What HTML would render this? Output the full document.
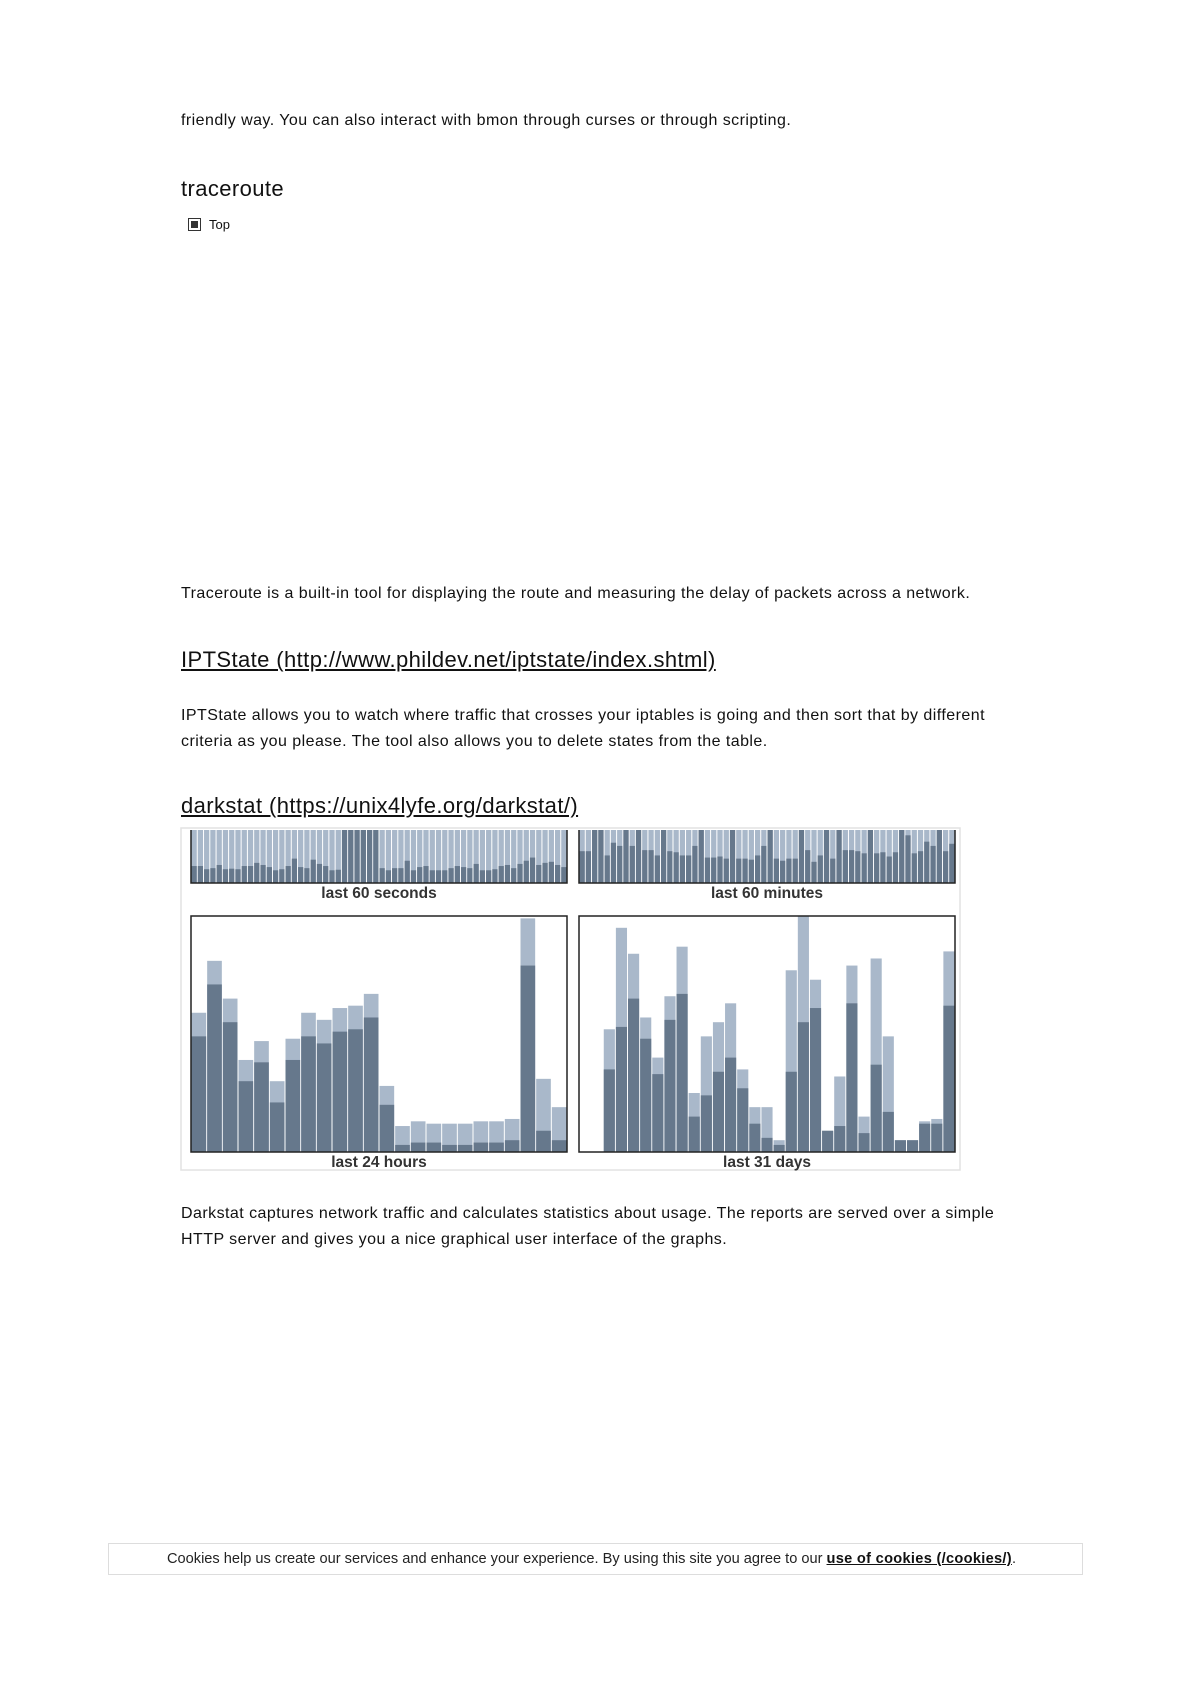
<!DOCTYPE html>
<html><head><meta charset="utf-8"><style>
body{margin:0;width:1190px;height:1683px;background:#fff;position:relative;font-family:"Liberation Sans",Arial,sans-serif;color:#111;overflow:hidden}
.t{position:absolute;left:181px;font-size:16px;letter-spacing:0.45px;white-space:nowrap}
.h{position:absolute;left:181px;font-size:22px;letter-spacing:0.4px;white-space:nowrap;font-family:"Liberation Sans",sans-serif;font-weight:normal}
.h a{color:#111;text-decoration:underline}
</style></head><body>
<div class="t" style="top:112px">friendly way. You can also interact with bmon through curses or through scripting.</div>
<div class="h" style="top:176px">traceroute</div>
<div style="position:absolute;left:188px;top:218px;width:11px;height:11px;border:1px solid #333;background:#fff"><div style="position:absolute;left:2px;top:2px;width:7px;height:7px;background:#333"></div></div>
<div style="position:absolute;left:209px;top:217px;font-size:13px">Top</div>
<div class="t" style="top:585px">Traceroute is a built-in tool for displaying the route and measuring the delay of packets across a network.</div>
<div class="h" style="top:647px"><a>IPTState (http://www.phildev.net/iptstate/index.shtml)</a></div>
<div class="t" style="top:707px">IPTState allows you to watch where traffic that crosses your iptables is going and then sort that by different</div>
<div class="t" style="top:733px">criteria as you please. The tool also allows you to delete states from the table.</div>
<div class="h" style="top:793px"><a>darkstat (https://unix4lyfe.org/darkstat/)</a></div>

<svg id="chart" style="position:absolute;left:0;top:0" width="1190" height="1200"></svg>

<div class="t" style="top:1205px">Darkstat captures network traffic and calculates statistics about usage. The reports are served over a simple</div>
<div class="t" style="top:1231px">HTTP server and gives you a nice graphical user interface of the graphs.</div>

<div style="position:absolute;left:108px;top:1543px;width:973px;height:30px;border:1px solid #ddd;background:#fff">
<div style="position:absolute;left:58px;top:7px;font-size:14.6px;white-space:nowrap;color:#222">Cookies help us create our services and enhance your experience. By using this site you agree to our <b style="text-decoration:underline;color:#111;letter-spacing:0.3px">use of cookies (/cookies/)</b>.</div>
</div>

<script>
const secTotal=Array(60).fill(100);
const secDark=[32,32,26,28,34,26,27,26,32,32,38,34,30,24,26,32,46,30,28,44,36,32,24,25,100,100,100,100,100,100,28,24,28,28,42,24,30,32,24,24,24,28,32,30,28,36,24,24,26,32,34,28,36,42,48,34,38,40,34,30];
const minTotal=Array(60).fill(100);
const minDark=[60,60,100,100,52,76,70,100,70,100,62,62,52,100,60,58,52,52,70,100,48,48,50,46,100,46,46,44,52,70,100,46,42,46,46,100,62,40,52,100,46,100,62,62,60,56,100,56,58,50,58,100,90,56,60,78,70,100,60,74];
const hourTotal=[59,81,65,39,47,30,48,59,56,61,62,67,28,11,13,12,12,12,13,13,14,99,31,19];
const hourDark=[49,71,55,30,38,21,39,49,46,51,52,57,20,3,4,4,3,3,4,4,5,79,9,5];
const dayTotal=[0,0,52,95,84,57,40,66,87,25,49,55,63,35,19,19,5,77,100,73,9,32,79,15,82,49,5,5,13,14,85];
const dayDark=[0,0,35,53,65,48,33,56,67,15,24,34,40,27,12,6,3,34,55,61,9,11,63,8,37,17,5,5,12,12,62];
const labels=["last 60 seconds","last 60 minutes","last 24 hours","last 31 days"];

const svg=document.getElementById('chart');
const NS='http://www.w3.org/2000/svg';
function mk(tag,attrs){const e=document.createElementNS(NS,tag);for(const k in attrs)e.setAttribute(k,attrs[k]);svg.appendChild(e);return e;}
const frame=mk('rect',{x:181,y:828,width:779,height:342,fill:'#fff',stroke:'#e2e2e2','stroke-width':1.5});


function panel(x0,y0,w,h,tot,dark,label,name,border){
  const n=tot.length,bw=w/n;
  const yS=v=>y0+h-v/100*h;
  for(let i=0;i<n;i++){
    if(tot[i]<=0)continue;
    const bx=x0+i*bw+0.5;
    const l=mk('rect',{x:bx,y:yS(tot[i]),width:bw-1,height:h-(yS(tot[i])-y0),fill:'#a9b8ca'});
    
    
    const d=mk('rect',{x:bx,y:yS(dark[i]),width:bw-1,height:h-(yS(dark[i])-y0),fill:'#66788c'});
    
    
  }
  if(border){
    const b=mk('rect',{x:x0,y:y0,width:w,height:h,fill:'none',stroke:'#222','stroke-width':1.5});
    
    
  }else{
    const b=mk('path',{d:`M${x0},${y0}V${y0+h}H${x0+w}V${y0}`,fill:'none',stroke:'#222','stroke-width':1.5});
    
    
  }
  const t=mk('text',{x:x0+w/2,y:y0+h+15,'text-anchor':'middle','font-size':15.5,'font-weight':'bold','font-family':'Liberation Sans, sans-serif',fill:'#333'});
  t.textContent=label;
  
  
}
panel(191,830,376,53,secTotal,secDark,labels[0],'seconds',false);
panel(579,830,376,53,minTotal,minDark,labels[1],'minutes',false);
panel(191,916,376,236,hourTotal,hourDark,labels[2],'hours',true);
panel(579,916,376,236,dayTotal,dayDark,labels[3],'days',true);
</script>
</body></html>
